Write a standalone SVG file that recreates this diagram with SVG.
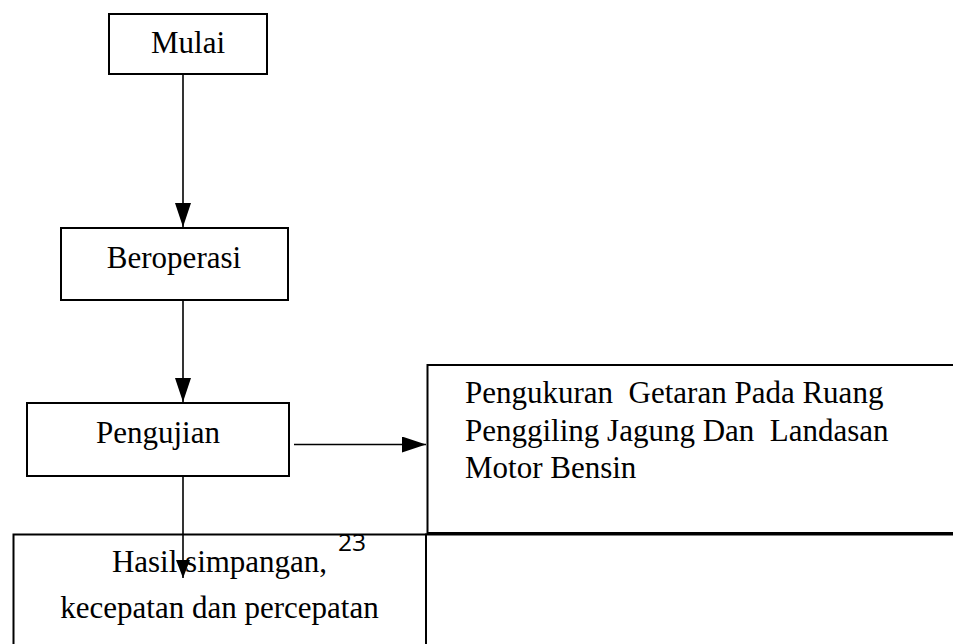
<svg xmlns="http://www.w3.org/2000/svg" width="953" height="644" viewBox="0 0 953 644">
<style>
.box{fill:#fff;stroke:#000;stroke-width:2}
.t{font-family:"Liberation Serif","Times New Roman",serif;font-size:31px;fill:#000;white-space:pre}
.c{text-anchor:middle}
.ln{stroke:#000;stroke-width:1.6;fill:none}
.pg{font-family:"Open Sans","DejaVu Sans",sans-serif;font-size:24.5px;fill:#000}
</style>
<defs>
<marker id="ah" markerUnits="userSpaceOnUse" markerWidth="24" markerHeight="16" refX="24" refY="8" orient="auto">
<path d="M0,0 L24,8 L0,16 Z" fill="#000"/>
</marker>
<marker id="ahs" markerUnits="userSpaceOnUse" markerWidth="18" markerHeight="14" refX="18" refY="7" orient="auto">
<path d="M0,0 L18,7 L0,14 Z" fill="#000"/>
</marker>
</defs>
<rect width="953" height="644" fill="#fff"/>
<g id="mulai">
<rect class="box" x="109" y="14" width="158" height="60"/>
<text class="t c" x="188" y="53">Mulai</text>
</g>
<g id="beroperasi">
<rect class="box" x="61" y="228" width="227" height="72"/>
<text class="t c" x="174" y="268">Beroperasi</text>
</g>
<g id="pengujian">
<rect class="box" x="27" y="403" width="262" height="73"/>
<text class="t c" x="158" y="443">Pengujian</text>
</g>
<g id="pengukuran">
<rect class="box" x="427.5" y="365" width="540" height="168"/>
<text class="t" x="465" y="403" xml:space="preserve">Pengukuran  Getaran Pada Ruang</text>
<text class="t" x="465" y="441" xml:space="preserve">Penggiling Jagung Dan  Landasan</text>
<text class="t" x="465" y="478">Motor Bensin</text>
</g>
<g id="hasil">
<rect class="box" x="13.5" y="534.5" width="412.5" height="130"/>
<text class="t c" x="219.5" y="572">Hasil simpangan,</text>
<text class="t c" x="219.5" y="618">kecepatan dan percepatan</text>
</g>
<g id="empty-cell">
<rect class="box" x="426" y="534.5" width="540" height="130"/>
</g>
<g id="connectors">
<line class="ln" x1="183" y1="74" x2="183" y2="227" marker-end="url(#ah)"/>
<line class="ln" x1="183" y1="300" x2="183" y2="402" marker-end="url(#ah)"/>
<line class="ln" x1="294" y1="444.5" x2="426" y2="444.5" marker-end="url(#ah)"/>
<line class="ln" x1="183" y1="476" x2="183" y2="578" marker-end="url(#ahs)"/>
</g>
<text class="pg" x="338" y="551">23</text>
</svg>
